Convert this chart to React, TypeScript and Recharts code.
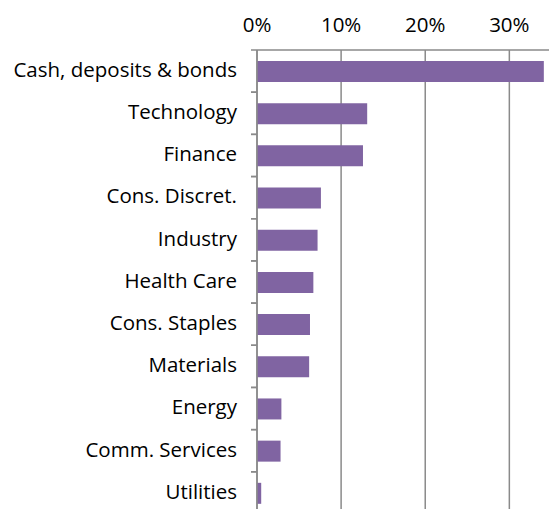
import { BarChart, Bar, XAxis, YAxis, CartesianGrid } from 'recharts';

const sectors = [
  'Cash, deposits & bonds',
  'Technology',
  'Finance',
  'Cons. Discret.',
  'Industry',
  'Health Care',
  'Cons. Staples',
  'Materials',
  'Energy',
  'Comm. Services',
  'Utilities',
];
const weights = [0.341, 0.131, 0.126, 0.076, 0.072, 0.067, 0.063, 0.062, 0.029, 0.028, 0.005];
const pctTicks = [0, 0.1, 0.2, 0.3];

const chartData = sectors.map((name, i) => ({ name, weight: weights[i] }));

const FONT = '"Open Sans", sans-serif';
const AXIS_GRAY = '#8a8a8a';

const PctTick = (props: any) => {
  const { x, y, payload } = props;
  return (
    <text x={x} y={y} dy={-18.3} textAnchor="middle" fontFamily={FONT} fontSize={20.5} fill="#000">
      {`${Math.round(payload.value * 100)}%`}
    </text>
  );
};

const SectorTick = (props: any) => {
  const { x, y, payload } = props;
  const half = payload.offset || 21;
  return (
    <g>
      <line x1={x - 6} x2={x} y1={y - half} y2={y - half} stroke={AXIS_GRAY} strokeWidth={1.5} />
      <line x1={x - 6} x2={x} y1={y + half} y2={y + half} stroke={AXIS_GRAY} strokeWidth={1.5} />
      <text x={x - 20} y={y} dy={5.8} textAnchor="end" fontFamily={FONT} fontSize={20.5} fill="#000">
        {payload.value}
      </text>
    </g>
  );
};

export default function App() {
  return (
    <div style={{ position: 'fixed', top: 0, left: 0, width: 549, height: 509, overflow: 'hidden', background: '#fff' }}>
      <BarChart
        width={560}
        height={520}
        data={chartData}
        layout="vertical"
        margin={{ top: 0, right: 8.6, left: 0, bottom: 6 }}
      >
        <CartesianGrid horizontal={false} vertical stroke={AXIS_GRAY} strokeWidth={1.5} />
        <XAxis
          type="number"
          orientation="top"
          domain={[0, 0.35]}
          ticks={pctTicks}
          height={50}
          tickSize={0}
          tickMargin={0}
          tickLine={false}
          axisLine={{ stroke: AXIS_GRAY, strokeWidth: 1.5 }}
          tick={<PctTick />}
        />
        <YAxis
          type="category"
          dataKey="name"
          width={257}
          tickSize={0}
          tickMargin={0}
          tickLine={false}
          interval={0}
          axisLine={{ stroke: AXIS_GRAY, strokeWidth: 1.5 }}
          tick={<SectorTick />}
        />
        <Bar dataKey="weight" fill="#8064A2" barSize={21} isAnimationActive={false} />
      </BarChart>
    </div>
  );
}
